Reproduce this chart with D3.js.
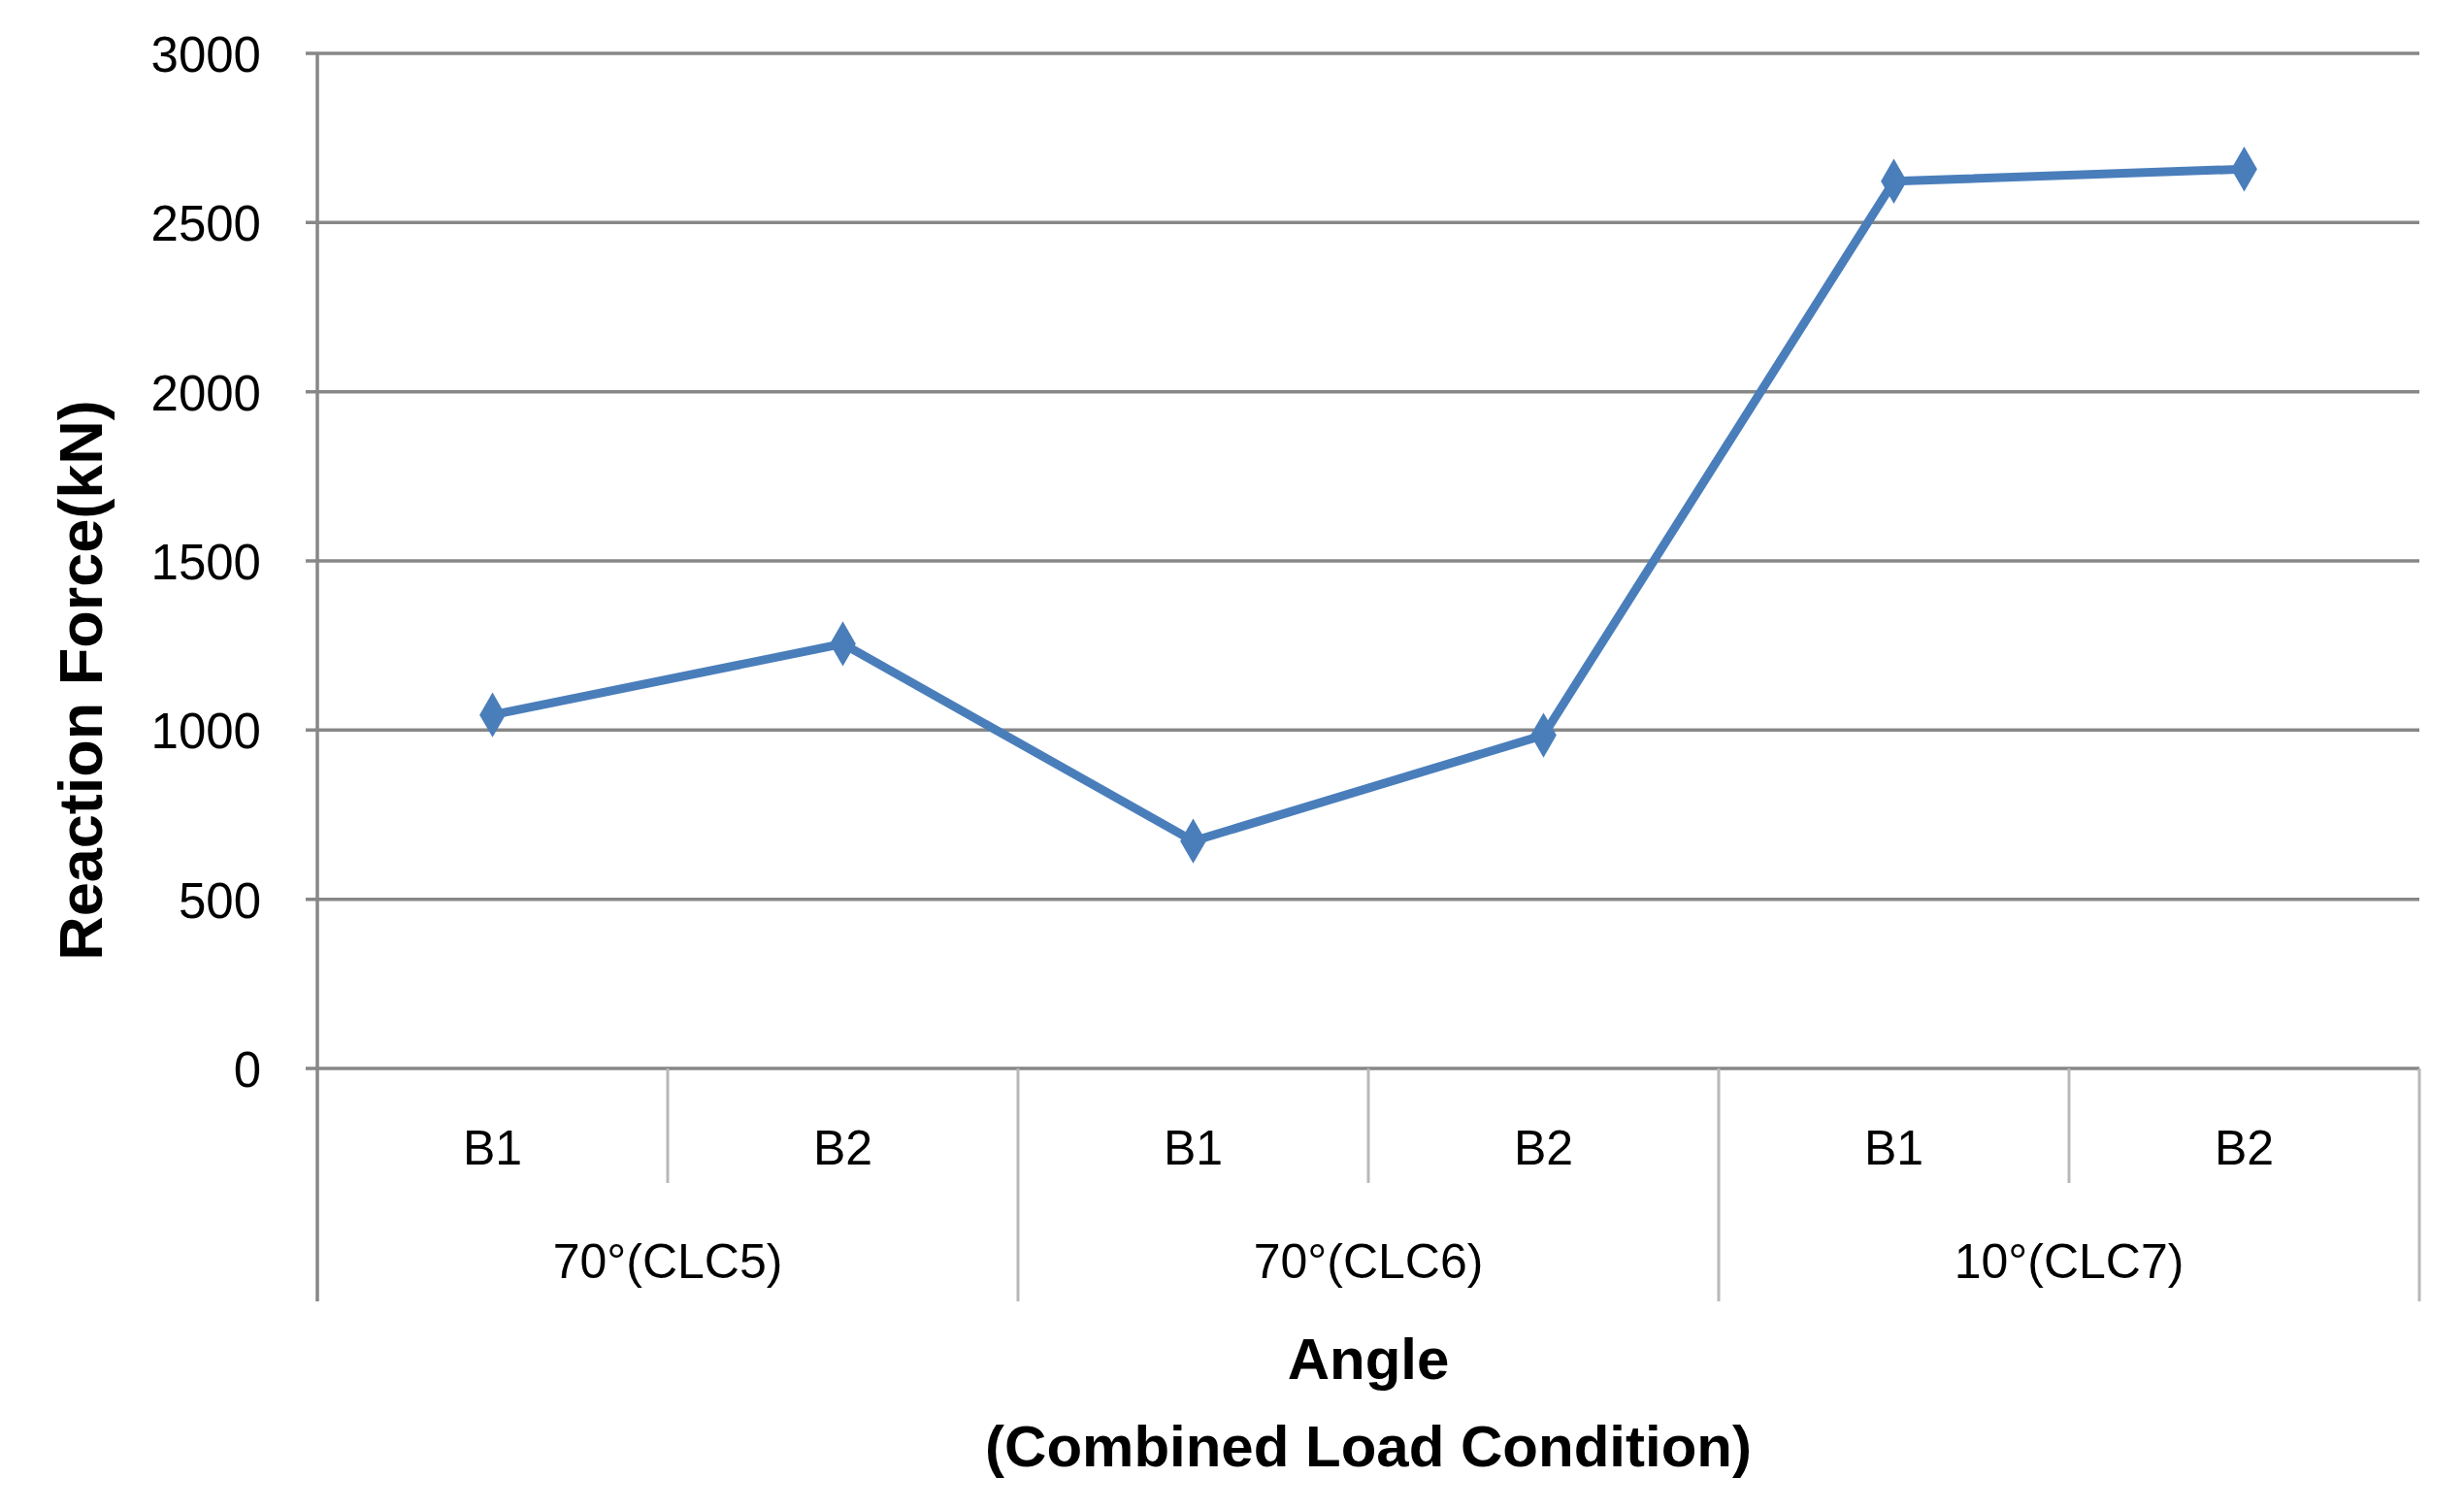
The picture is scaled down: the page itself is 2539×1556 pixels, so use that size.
<!DOCTYPE html>
<html><head><meta charset="utf-8">
<script src="https://cdn.jsdelivr.net/npm/d3@7"></script>
<style>body{margin:0;background:#fff}</style>
</head><body>
<svg id="c" width="2539" height="1556"></svg>
<script>
const groups = ["70°(CLC5)", "70°(CLC6)", "10°(CLC7)"];
const subCats = ["B1", "B2"];
const values = [1045, 1255, 672, 985, 2622, 2658];
const yTicks = [0, 500, 1000, 1500, 2000, 2500, 3000];
const yTitle = "Reaction Force(kN)";
const xTitle1 = "Angle";
const xTitle2 = "(Combined Load Condition)";

const W = 2539, H = 1556;
const m = {left: 327, right: 2493, top: 55, bottom: 1101};
const innerBottom = 1219, outerBottom = 1341;
const lineColor = "#4A7EBB", gridColor = "#878787", sepColor = "#b8b8b8";
const font = "'Liberation Sans', Arial, sans-serif";

const svg = d3.select("#c");
const cats = [];
groups.forEach((g, gi) => subCats.forEach((s, si) => cats.push({key: gi + "-" + s, g, s, gi, si})));
const x = d3.scaleBand().domain(cats.map(d => d.key)).range([m.left, m.right]);
const y = d3.scaleLinear().domain([0, 3000]).range([m.bottom, m.top]);

// gridlines
svg.append("g").selectAll("line").data(yTicks).join("line")
  .attr("x1", m.left - 12).attr("x2", m.right)
  .attr("y1", d => y(d)).attr("y2", d => y(d))
  .attr("stroke", gridColor).attr("stroke-width", 3.5);

// y axis
const yAxis = svg.append("g").attr("transform", `translate(${m.left},0)`)
  .call(d3.axisLeft(y).tickValues(yTicks).tickSize(0).tickPadding(58).tickFormat(d3.format("d")));
yAxis.select(".domain").remove();
yAxis.selectAll("text").attr("font-family", font).attr("font-size", 51).attr("fill", "#000").attr("dy", "0.36em");
svg.append("line").attr("x1", m.left).attr("x2", m.left).attr("y1", m.top).attr("y2", outerBottom)
  .attr("stroke", gridColor).attr("stroke-width", 3.5);

// category separators
const bw = x.bandwidth();
cats.forEach(d => {
  if (d.si === 1) {
    svg.append("line").attr("x1", x(d.key)).attr("x2", x(d.key))
      .attr("y1", m.bottom).attr("y2", innerBottom).attr("stroke", sepColor).attr("stroke-width", 3);
  }
});
groups.forEach((g, gi) => {
  const xe = x(gi + "-" + subCats[subCats.length - 1]) + bw;
  svg.append("line").attr("x1", xe).attr("x2", xe)
    .attr("y1", m.bottom).attr("y2", outerBottom).attr("stroke", sepColor).attr("stroke-width", 3);
});

// sub labels
svg.append("g").selectAll("text").data(cats).join("text")
  .attr("x", d => x(d.key) + bw / 2).attr("y", 1200)
  .attr("text-anchor", "middle").attr("font-family", font).attr("font-size", 50).attr("fill", "#000")
  .text(d => d.s);
// group labels
svg.append("g").selectAll("text").data(groups).join("text")
  .attr("x", (g, gi) => (x(gi + "-" + subCats[0]) + x(gi + "-" + subCats[1]) + bw) / 2).attr("y", 1317)
  .attr("text-anchor", "middle").attr("font-family", font).attr("font-size", 50).attr("fill", "#000")
  .text(d => d);

// axis titles
svg.append("text").attr("x", (m.left + m.right) / 2).attr("y", 1421)
  .attr("text-anchor", "middle").attr("font-family", font).attr("font-weight", "bold").attr("font-size", 60)
  .text(xTitle1);
svg.append("text").attr("x", (m.left + m.right) / 2).attr("y", 1511)
  .attr("text-anchor", "middle").attr("font-family", font).attr("font-weight", "bold").attr("font-size", 60)
  .text(xTitle2);
svg.append("text").attr("transform", `translate(105,701) rotate(-90)`)
  .attr("text-anchor", "middle").attr("font-family", font).attr("font-weight", "bold").attr("font-size", 63)
  .text(yTitle);

// line
const pts = cats.map((d, i) => ({cx: x(d.key) + bw / 2, v: values[i]}));
svg.append("path").datum(pts)
  .attr("d", d3.line().x(d => d.cx).y(d => y(d.v)))
  .attr("fill", "none").attr("stroke", lineColor).attr("stroke-width", 9).attr("stroke-linejoin", "round");
svg.append("g").selectAll("path").data(pts).join("path")
  .attr("transform", d => `translate(${d.cx},${y(d.v)})`)
  .attr("d", d3.symbol(d3.symbolDiamond, 620))
  .attr("fill", lineColor);
</script>
</body></html>
